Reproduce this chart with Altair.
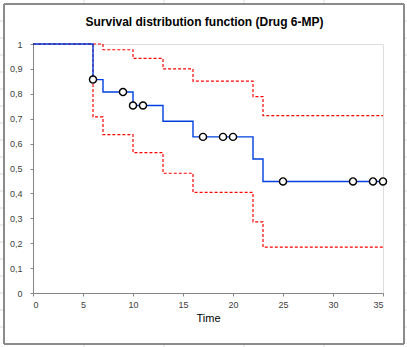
import altair as alt
import pandas as pd

# Kaplan-Meier estimate (Drug 6-MP)
km_time = [0, 6, 7, 10, 13, 16, 22, 23, 35]
km_surv = [1.0, 0.857, 0.807, 0.753, 0.690, 0.627, 0.538, 0.448, 0.448]
ci_upper = [1.0, 1.0, 0.977, 0.942, 0.900, 0.851, 0.789, 0.712, 0.712]
ci_lower = [1.0, 0.707, 0.636, 0.564, 0.481, 0.404, 0.286, 0.184, 0.184]

# censored observations
cens_time = [6, 9, 10, 11, 17, 19, 20, 25, 32, 34, 35]
cens_surv = [0.857, 0.807, 0.753, 0.753, 0.627, 0.627, 0.627, 0.448, 0.448, 0.448, 0.448]

x_ticks = [0, 5, 10, 15, 20, 25, 30, 35]
y_ticks = [0, 0.1, 0.2, 0.3, 0.4, 0.5, 0.6, 0.7, 0.8, 0.9, 1.0]

title_text = ["Survival distribution function (Drug 6-MP)"]

W, H = 350, 249
PL, PT = 33, 44

km = pd.DataFrame({"t": km_time, "s": km_surv})
bounds = pd.DataFrame({
    "t": km_time * 2,
    "v": ci_upper + ci_lower,
    "b": ["upper"] * len(km_time) + ["lower"] * len(km_time),
})
cens = pd.DataFrame({"t": cens_time, "s": cens_surv})

FONT = "Liberation Sans"
AX = "#868686"

x_scale = alt.Scale(domain=[0, 35], nice=False)
x_axis = alt.Axis(values=x_ticks, title="Time", grid=False,
                  domainColor=AX, tickColor=AX, tickSize=3,
                  labelFont=FONT, labelFontSize=9, labelColor="#404040",
                  labelPadding=4, labelOverlap=False,
                  titleFont=FONT, titleFontSize=11,
                  titleFontWeight="normal", titleColor="black",
                  titlePadding=3)
y_scale = alt.Scale(domain=[0, 1], nice=False)
y_axis = alt.Axis(values=y_ticks, title=None, grid=False,
                  domainColor=AX, tickColor=AX, tickSize=3,
                  labelFont=FONT, labelFontSize=9, labelColor="#404040",
                  labelPadding=8, labelOverlap=False, labelBound=False,
                  labelExpr="replace(format(datum.value, '.1~f'), '.', ',')")

# decorative spreadsheet frame and cell grid (pixel positions)
grid_rows = [21 + 17 * k for k in range(19)]
grid_cols = [84, 164, 244, 324]
decor_rows = []
for yy in grid_rows:
    decor_rows.append({"x": 0 - PL, "x2": 4 - PL, "y": yy - PT, "y2": yy - PT})
    decor_rows.append({"x": 404 - PL, "x2": 407 - PL, "y": yy - PT, "y2": yy - PT})
for xx in grid_cols:
    decor_rows.append({"x": xx - PL, "x2": xx - PL, "y": 0 - PT, "y2": 4 - PT})
    decor_rows.append({"x": xx - PL, "x2": xx - PL, "y": 344 - PT, "y2": 347 - PT})
decor = pd.DataFrame(decor_rows)

grid_layer = alt.Chart(decor).mark_rule(color="#d9d9d9", strokeWidth=1, clip=False).encode(
    x=alt.X("x:Q", scale=None), x2="x2:Q",
    y=alt.Y("y:Q", scale=None), y2="y2:Q",
)

frame = alt.Chart(km).mark_rect(fill="white", fillOpacity=0, stroke="#8a8a8a",
                                 strokeWidth=1, clip=False).encode(
    x=alt.value(4 - PL), x2=alt.value(404 - PL),
    y=alt.value(4 - PT), y2=alt.value(344 - PT),
)

title_layer = alt.Chart(pd.DataFrame({"label": title_text})).mark_text(
    font=FONT, fontSize=12, fontWeight="bold", color="black",
    align="center", baseline="alphabetic", clip=False
).encode(
    x=alt.value(204.5 - PL), y=alt.value(26 - PT), text="label:N"
)

bound_lines = alt.Chart(bounds).mark_line(
    interpolate="step-after", color="#ff0000", strokeWidth=1.2, strokeDash=[3, 2]
).encode(
    x=alt.X("t:Q", scale=x_scale, axis=x_axis),
    y=alt.Y("v:Q", scale=y_scale, axis=y_axis),
    detail="b:N",
)

km_line = alt.Chart(km).mark_line(
    interpolate="step-after", color="#0040e0", strokeWidth=1.4
).encode(
    x=alt.X("t:Q", scale=x_scale, axis=x_axis),
    y=alt.Y("s:Q", scale=y_scale, axis=y_axis),
)

cens_pts = alt.Chart(cens).mark_point(
    shape="circle", size=50, filled=True, fill="white", stroke="black",
    strokeWidth=1.4, opacity=1
).encode(
    x=alt.X("t:Q", scale=x_scale, axis=x_axis),
    y=alt.Y("s:Q", scale=y_scale, axis=y_axis),
)

chart = alt.layer(grid_layer, frame, title_layer, bound_lines, km_line, cens_pts).properties(
    width=W, height=H,
    padding={"left": PL, "top": PT, "right": 407 - PL - W, "bottom": 347 - PT - H},
    autosize=alt.AutoSizeParams(type="none"),
).configure_view(
    stroke="#bfbfbf", strokeWidth=1
).configure_axis(
    labelOverlap=False
).configure(background="white")

chart.save("out.html", embed_options={"renderer": "svg", "actions": False})
